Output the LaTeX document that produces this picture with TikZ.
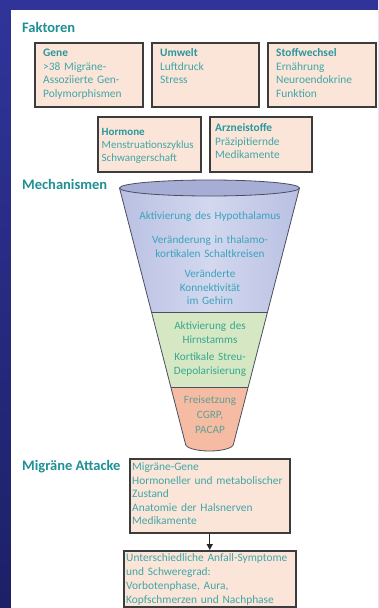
\documentclass[tikz,border=0pt]{standalone}
\usepackage{fontspec}
\setmainfont{Carlito}
\usetikzlibrary{arrows.meta}
\definecolor{bgtop}{HTML}{30349A}
\definecolor{bgbot}{HTML}{1D2066}
\definecolor{titlec}{HTML}{1F9096}
\definecolor{headc}{HTML}{2A979C}
\definecolor{bodyc}{HTML}{40A6A6}
\definecolor{boxfill}{HTML}{FBE5D9}
\definecolor{boxline}{HTML}{3C3C3C}
\definecolor{funB}{HTML}{B9C0E2}
\definecolor{funBl}{HTML}{D3D8EF}
\definecolor{funTop}{HTML}{A6AED6}
\definecolor{funG}{HTML}{D5E8C3}
\definecolor{funO}{HTML}{F6BCA3}
\definecolor{ftB}{HTML}{3BA3BD}
\definecolor{ftG}{HTML}{36A88E}
\definecolor{ftO}{HTML}{5E9F96}
\definecolor{funline}{HTML}{4A4E60}
\begin{document}
\begin{tikzpicture}[x=1pt,y=-1pt,
  fbox/.style={draw=boxline, fill=boxfill, line width=1.5pt, anchor=north west, inner sep=0pt},
  btxt/.style={anchor=base west, inner sep=0pt, text width=#1, align=left, text=bodyc,
     font=\fontsize{11.4}{13.6}\selectfont},
  ftxt/.style={anchor=base, inner sep=0pt, text width=170pt, align=center,
     font=\fontsize{11.2}{14}\selectfont},
  ttl/.style={anchor=west, inner sep=0pt, text=titlec, font=\fontsize{14.5}{16}\selectfont\bfseries}]
% background
\useasboundingbox (0,0) rectangle (378,608);
\shade[top color=bgtop, bottom color=bgbot] (0,0) rectangle (378,608);
\fill[white] (11,10) rectangle (378,608);

% titles
\node[ttl] (tfak) at (22,27) {Faktoren};
\node[ttl] (tmech) at (22,184) {Mechanismen};
\node[ttl] (tmig) at (22,467) {Migräne Attacke};

% Faktoren boxes
\node[fbox, minimum width=108pt, minimum height=64pt] (gene) at (34,42) {};
\node[fbox, minimum width=107pt, minimum height=64pt] (umwelt) at (151,42) {};
\node[fbox, minimum width=108pt, minimum height=64pt] (stoff) at (267,42) {};
\node[fbox, minimum width=103pt, minimum height=55pt] (horm) at (97,116) {};
\node[fbox, minimum width=102pt, minimum height=55pt] (arz) at (209,116) {};

\node[btxt=98pt] (genet) at (43,56.5) {{\bfseries\color{headc}Gene}\\>38 Migräne-\\Assoziierte Gen-\\Polymorphismen};
\node[btxt=95pt] (umweltt) at (160,56.5) {{\bfseries\color{headc}Umwelt}\\Luftdruck\\Stress};
\node[btxt=98pt] (stofft) at (276,56.5) {{\bfseries\color{headc}Stoffwechsel}\\Ernährung\\Neuroendokrine\\Funktion};
\node[btxt=98pt, font=\fontsize{11}{13.2}\selectfont] (hormt) at (101.5,135.5) {{\bfseries\color{headc}Hormone}\\Menstruationszyklus\\Schwangerschaft};
\node[btxt=95pt] (arzt) at (215,131.5) {{\bfseries\color{headc}Arzneistoffe}\\Präzipitiernde\\Medikamente};

% funnel
\path[left color=funB, right color=funB, middle color=funBl]
  (119.5,188) -- (151.5,312) -- (267.5,312) -- (299.5,188) -- cycle;
\fill[funG] (151.5,312) -- (170.8,387) -- (248.2,387) -- (267.5,312) -- cycle;
\fill[funO] (170.8,387) -- (185.5,444) arc[start angle=180, end angle=0, x radius=24, y radius=7] -- (248.2,387) -- cycle;
\draw[funline, line width=0.8pt, line join=round]
  (119.5,188) -- (185.5,444) arc[start angle=180, end angle=0, x radius=24, y radius=7] -- (299.5,188);
\draw[funline, line width=0.6pt] (151.5,312) -- (267.5,312);
\draw[funline, line width=0.6pt] (170.8,387) -- (248.2,387);
\filldraw[fill=funTop, draw=funline, line width=0.8pt] (209.5,188) ellipse[x radius=90, y radius=8];

\node[ftxt, text=ftB] (f1) at (210,219.5) {Aktivierung des Hypothalamus};
\node[ftxt, text=ftB] (f2) at (210,243.5) {Veränderung in thalamo-\\kortikalen Schaltkreisen};
\node[ftxt, text=ftB, font=\fontsize{11.2}{13.5}\selectfont] (f3) at (210,277.5) {Veränderte\\Konnektivität\\im Gehirn};
\node[ftxt, text=ftG] (f4) at (210,329.5) {Aktivierung des\\Hirnstamms};
\node[ftxt, text=ftG] (f5) at (210,360.5) {Kortikale Streu-\\Depolarisierung};
\node[ftxt, text=ftO, font=\fontsize{11.2}{15}\selectfont] (f6) at (210,403.5) {Freisetzung\\CGRP,\\PACAP};

% Migräne Attacke boxes
\node[fbox, minimum width=160pt, minimum height=74pt] (box1) at (129,458) {};
\node[fbox, minimum width=172pt, minimum height=56pt] (box2) at (123,550) {};
\node[btxt=155pt] (box1t) at (132,470.5) {Migräne-Gene\\Hormoneller und metabolischer\\Zustand\\Anatomie der Halsnerven\\Medikamente};
\node[btxt=168pt, font=\fontsize{11.4}{14}\selectfont] (box2t) at (126,561.5) {Unterschiedliche Anfall-Symptome\\und Schweregrad:\\Vorbotenphase, Aura,\\Kopfschmerzen und Nachphase};

\draw[-{Triangle[length=6pt,width=6pt]}, line width=1.3pt, black!85] (box1.south) -- (box2.north);
\end{tikzpicture}
\end{document}
